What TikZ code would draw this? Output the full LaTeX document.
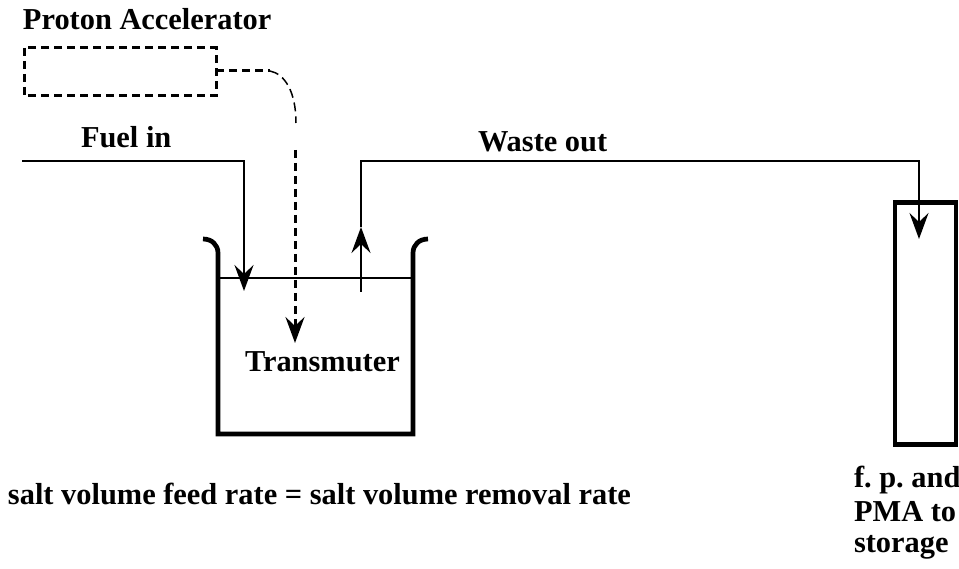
\documentclass[tikz,border=0pt]{standalone}
\usepackage{fontspec}
\setmainfont{Liberation Serif}
\usetikzlibrary{arrows.meta}
\tikzset{
  lbl/.style={anchor=base west,inner sep=0pt,outer sep=0pt,font=\fontsize{30.4}{34}\selectfont\bfseries\frenchspacing},
  flow/.style={line width=1.9pt,-{Stealth[length=26pt,width=19pt,inset=9pt]},line join=miter},
  plain/.style={line width=1.7pt,line join=miter},
  dsh/.style={line width=3pt,dash pattern=on 8pt off 5pt},
  vessel/.style={line width=4.7pt,line join=miter},
}
\begin{document}
\begin{tikzpicture}[x=1pt,y=-1pt]
\useasboundingbox (0,0) rectangle (959,569);
% labels
\node[lbl] (pa) at (23,29.5) {Proton Accelerator};
\node[lbl] (fi) at (81,148) {Fuel in};
\node[lbl] (wo) at (478,152) {Waste out};
\node[lbl] (tr) at (245,371.5) {Transmuter};
\node[lbl] (sv) at (8,504) {salt volume feed rate = salt volume removal rate};
\node[lbl] (s1) at (854,487) {f. p. and};
\node[lbl] (s2) at (854,521) {PMA to};
\node[lbl] (s3) at (854,552) {storage};
% coordinates
\coordinate (acA) at (24,48);
\coordinate (acB) at (216,96);
\coordinate (beamS) at (216,71);
\coordinate (beamK) at (270,71);
\coordinate (beamE) at (296,123);
\coordinate (beamV) at (295,150);
\coordinate (beamT) at (295,343);
\coordinate (fuelS) at (22,161);
\coordinate (fuelK) at (244,161);
\coordinate (fuelT) at (244,291);
\coordinate (wasteS) at (361,292);
\coordinate (wasteT) at (361,227);
\coordinate (wasteK) at (361,161);
\coordinate (wasteL) at (919,161);
\coordinate (wasteE) at (919,239);
\coordinate (levelL) at (218,278);
\coordinate (levelR) at (411,278);
\coordinate (bTL) at (218,253);
\coordinate (bBL) at (218,434);
\coordinate (bBR) at (413,434);
\coordinate (bTR) at (413,253);
\coordinate (cL) at (203,239);
\coordinate (cR) at (428,239);
% accelerator
\draw[dsh] (acA) rectangle (acB);
\draw[dsh] (beamS) -- (beamK);
\draw[line width=1.5pt,dash pattern=on 9pt off 5pt] (beamK) .. controls (285,74) and (296,92) .. (beamE);
\draw[dsh,-{Stealth[length=26pt,width=19pt,inset=9pt]}] (beamV) -- (beamT);
% vessel
\draw[vessel] (cL) .. controls (212,239) and (218,245) .. (bTL) -- (bBL) -- (bBR) -- (bTR) .. controls (413,245) and (419,239) .. (cR);
\draw[plain] (levelL) -- (levelR);
% storage
\draw[vessel] (895,202.5) rectangle (956,444.5);
% flows
\draw[flow] (fuelS) -- (fuelK) -- (fuelT);
\draw[flow] (wasteS) -- (wasteT);
\draw[flow] (wasteT) -- (wasteK) -- (wasteL) -- (wasteE);
\end{tikzpicture}
\end{document}
